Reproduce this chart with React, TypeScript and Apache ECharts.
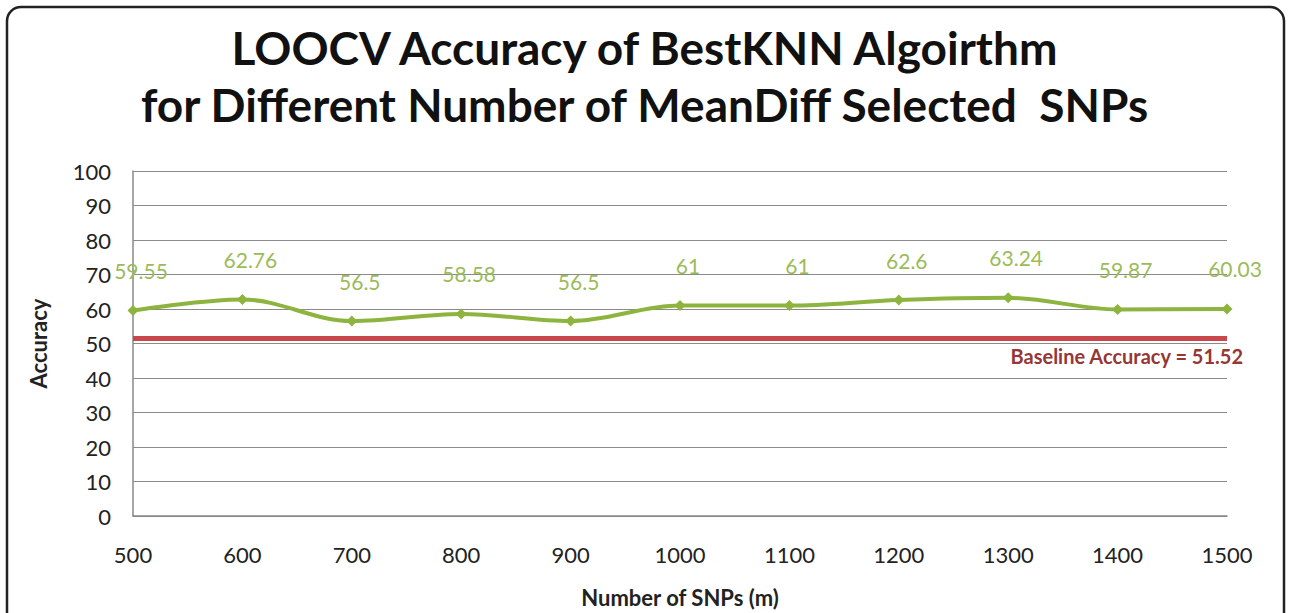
import React, { useEffect, useRef } from "react";
import * as echarts from "echarts";

const titleLines = [
  "LOOCV Accuracy of BestKNN Algoirthm",
  "for Different Number of MeanDiff Selected  SNPs",
];
const snpCounts = [500, 600, 700, 800, 900, 1000, 1100, 1200, 1300, 1400, 1500];
const accuracy = [59.55, 62.76, 56.5, 58.58, 56.5, 61, 61, 62.6, 63.24, 59.87, 60.03];
const baselineAccuracy = 51.52;
const baselineLabel = "Baseline Accuracy = " + baselineAccuracy;
const xAxisName = "Number of SNPs (m)";
const yAxisName = "Accuracy";

export default function App() {
  const ref = useRef<HTMLDivElement>(null);
  useEffect(() => {
    if (!ref.current) return;
    const chart = echarts.init(ref.current, null, { renderer: "svg" });
    chart.setOption({
      animation: false,
      backgroundColor: "#ffffff",
      textStyle: { fontFamily: "Lato" },
      title: {
        text: titleLines.join("\n"),
        left: "center",
        top: 14,
        textStyle: {
          fontFamily: "Lato",
          fontSize: 46,
          fontWeight: "bold",
          color: "#111",
          lineHeight: 57,
        },
      },
      graphic: [
        {
          type: "rect",
          shape: { x: 7, y: 7, width: 1277, height: 660, r: 14 },
          style: { fill: "none", stroke: "#222", lineWidth: 2.5 },
          silent: true,
        },
      ],
      grid: { left: 133, right: 62, top: 171, bottom: 97 },
      xAxis: {
        type: "value",
        min: 500,
        max: 1500,
        interval: 100,
        name: xAxisName,
        nameLocation: "middle",
        nameGap: 70,
        nameTextStyle: { fontFamily: "Lato", fontSize: 22, fontWeight: "bold", color: "#222" },
        axisLine: { show: true, lineStyle: { color: "#888", width: 1.5 } },
        axisTick: { show: false },
        splitLine: { show: false },
        axisLabel: {
          fontFamily: "Lato",
          fontSize: 22,
          color: "#222",
          margin: 27,
          formatter: (v: number) => String(v),
        },
      },
      yAxis: {
        type: "value",
        min: 0,
        max: 100,
        interval: 10,
        name: yAxisName,
        nameLocation: "middle",
        nameRotate: 90,
        nameGap: 84,
        nameTextStyle: { fontFamily: "Lato", fontSize: 22, fontWeight: "bold", color: "#222" },
        axisLine: { show: true, lineStyle: { color: "#888", width: 1.5 } },
        axisTick: { show: false },
        splitLine: { show: true, lineStyle: { color: "#8a8a8a", width: 1 } },
        axisLabel: { fontFamily: "Lato", fontSize: 22, color: "#222", margin: 22 },
      },
      series: [
        {
          type: "line",
          data: snpCounts.map((x, i) => [x, accuracy[i]]),
          smooth: 0.35,
          symbol: "diamond",
          symbolSize: 11,
          lineStyle: { color: "#8db43e", width: 4 },
          itemStyle: { color: "#8db43e" },
          label: {
            show: true,
            position: "top",
            distance: 24,
            offset: [8, 0],
            fontFamily: "Lato",
            fontSize: 21,
            color: "#9bbb59",
          },
          markLine: {
            silent: true,
            symbol: "none",
            data: [{ yAxis: baselineAccuracy }],
            lineStyle: {
              color: "#c9474a",
              width: 5,
              type: "solid",
            },
            label: {
              show: true,
              position: "insideEndBottom",
              formatter: baselineLabel,
              fontFamily: "Lato",
              fontSize: 20,
              fontWeight: "bold",
              color: "#953735",
              distance: [0, 8],
              offset: [16, 0],
            },
          },
          z: 3,
        },
      ],
    });
    return () => chart.dispose();
  }, []);
  return (
    <div
      ref={ref}
      style={{ position: "fixed", left: 0, top: 0, width: 1289, height: 613 }}
    />
  );
}
